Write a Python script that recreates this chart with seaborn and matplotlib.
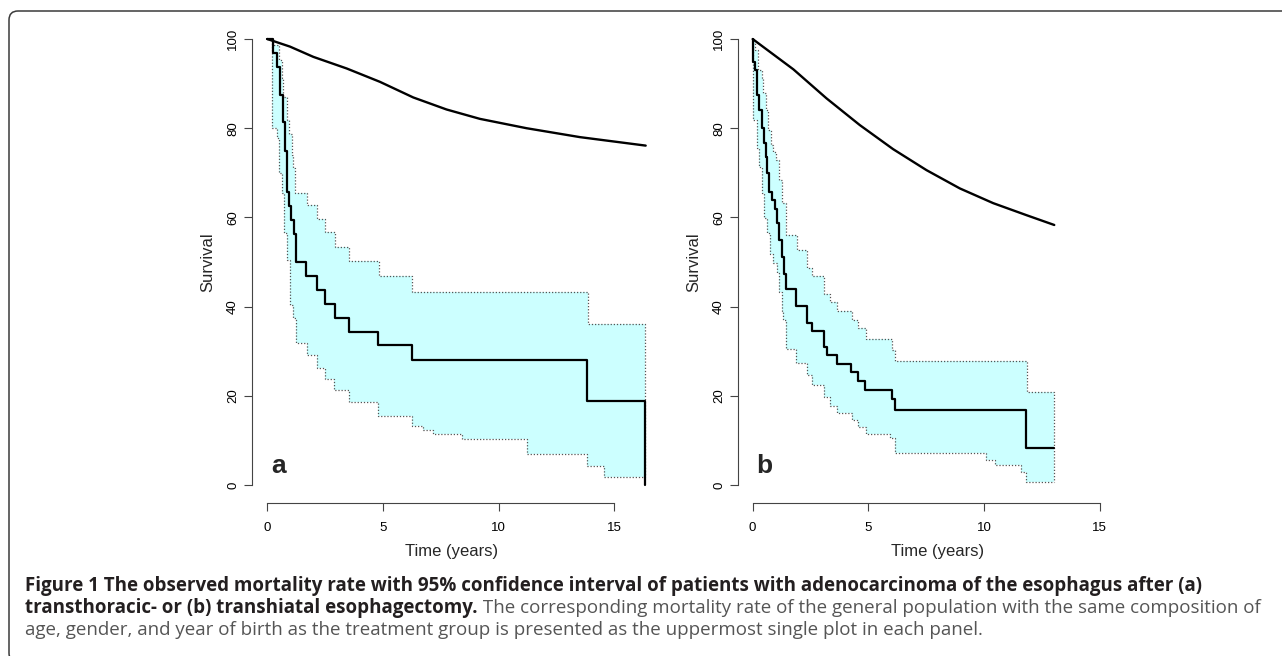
import numpy as np
import pandas as pd
import seaborn as sns
import matplotlib.pyplot as plt
from matplotlib.patches import FancyBboxPatch
from matplotlib.transforms import IdentityTransform

# ---- panel a: transthoracic ----
a_km_t = [0, 0.24, 0.42, 0.54, 0.67, 0.76, 0.85, 0.92, 1.02, 1.14, 1.22, 1.68, 2.13, 2.48,
          2.91, 3.55, 4.80, 6.27, 13.83, 16.35]
a_km_s = [100, 96.9, 93.8, 87.5, 81.3, 75.0, 65.6, 62.5, 59.4, 56.3, 50.0, 46.9, 43.8, 40.6,
          37.5, 34.4, 31.3, 28.1, 18.8, 0]
a_up_t = [0, 0.24, 0.51, 0.62, 0.69, 0.84, 0.95, 1.05, 1.13, 1.20, 1.70, 2.13, 2.49, 2.93,
          3.55, 4.83, 6.27, 13.88, 16.35]
a_up_s = [100, 98.6, 95.4, 91.2, 86.9, 81.8, 78.8, 74.0, 71.0, 65.4, 62.8, 59.6, 56.7, 53.4,
          50.3, 46.9, 43.3, 36.1, 1.7]
a_lo_t = [0, 0.22, 0.40, 0.52, 0.62, 0.72, 0.87, 0.98, 1.13, 1.23, 1.70, 2.13, 2.49, 2.90,
          3.55, 4.80, 6.27, 6.74, 7.18, 8.40, 11.21, 13.83, 14.56, 16.35]
a_lo_s = [100, 80.0, 77.7, 69.9, 65.4, 56.4, 50.4, 40.4, 37.4, 31.9, 29.1, 26.3, 23.7, 21.2,
          18.5, 15.5, 13.3, 12.3, 11.4, 10.3, 6.9, 4.3, 1.7, 1.7]
a_pop_t = [0, 0.98, 1.99, 3.43, 4.87, 6.31, 7.75, 9.19, 11.21, 13.52, 16.36]
a_pop_s = [100, 98.3, 96.0, 93.4, 90.4, 86.9, 84.2, 82.1, 80.0, 78.0, 76.1]

# ---- panel b: transhiatal ----
b_km_t = [0, 0.02, 0.10, 0.17, 0.27, 0.39, 0.49, 0.58, 0.63, 0.70, 0.82, 0.96, 1.06, 1.15,
          1.25, 1.35, 1.42, 1.87, 2.33, 2.55, 3.09, 3.20, 3.63, 4.25, 4.56, 4.85, 6.00, 6.15,
          11.80, 13.03]
b_km_s = [100, 94.9, 93.0, 87.4, 84.1, 80.0, 76.6, 73.6, 69.9, 65.8, 63.9, 61.8, 58.7, 54.9,
          51.2, 47.3, 43.9, 40.1, 36.4, 34.6, 31.0, 29.1, 27.1, 25.4, 23.4, 21.4, 19.2, 16.7,
          8.2, 8.2]
b_up_t = [0, 0.10, 0.24, 0.39, 0.46, 0.58, 0.68, 0.79, 0.89, 1.03, 1.13, 1.25, 1.42, 1.90,
          2.33, 2.55, 3.09, 3.34, 3.63, 4.28, 4.56, 4.90, 6.03, 6.15, 11.84, 13.03]
b_up_s = [100, 97.5, 93.0, 91.2, 87.8, 84.1, 79.6, 76.2, 74.7, 72.9, 68.4, 63.2, 56.1, 52.7,
          48.6, 46.9, 42.8, 41.1, 39.0, 37.0, 35.1, 32.7, 30.3, 27.7, 20.8, 0.7]
b_lo_t = [0, 0.03, 0.17, 0.27, 0.39, 0.50, 0.60, 0.75, 0.89, 1.04, 1.15, 1.25, 1.32, 1.42,
          1.87, 2.33, 2.55, 3.09, 3.34, 3.63, 4.28, 4.56, 4.90, 5.93, 6.15, 10.08, 10.47,
          11.59, 11.80, 13.03]
b_lo_s = [100, 81.8, 75.5, 71.4, 65.4, 59.8, 56.4, 51.9, 49.7, 47.5, 43.3, 38.9, 37.0, 30.6,
          27.3, 24.7, 22.4, 19.8, 17.7, 16.1, 14.6, 13.1, 11.4, 10.5, 7.2, 5.6, 4.5, 2.8,
          0.7, 0.7]
b_pop_t = [0, 1.76, 3.19, 4.63, 6.07, 7.51, 8.95, 10.39, 11.83, 13.03]
b_pop_s = [100, 93.2, 86.7, 80.7, 75.3, 70.6, 66.5, 63.2, 60.5, 58.3]

x_ticks = [0, 5, 10, 15]
y_ticks = [0, 20, 40, 60, 80, 100]

caption_1 = ("Figure 1 The observed mortality rate with 95% confidence interval of patients "
             "with adenocarcinoma of the esophagus after (a)")
caption_2b = "transthoracic- or (b) transhiatal esophagectomy."
caption_2r = (" The corresponding mortality rate of the general population with the same "
              "composition of")
caption_3 = ("age, gender, and year of birth as the treatment group is presented as the "
             "uppermost single plot in each panel.")

sns.set_theme(style="white")
plt.rcParams['font.family'] = ['Liberation Sans', 'DejaVu Sans']

W, H = 1282, 656
fig = plt.figure(figsize=(W / 100, H / 100), dpi=100)

AX_COL = '#444444'
FILL = '#ccffff'


def step_at(t, s, grid):
    idx = np.searchsorted(t, grid, side='right') - 1
    return np.asarray(s)[idx]


def panel(rect, xlim, km_t, km_s, up_t, up_s, lo_t, lo_s, pop_t, pop_s, tag):
    ax = fig.add_axes(rect)
    # shaded band between the two confidence limits
    grid = np.union1d(up_t, lo_t)
    grid = grid[grid < up_t[-1]]
    grid = np.append(grid, up_t[-1])
    ax.fill_between(grid, step_at(lo_t, lo_s, grid), step_at(up_t, up_s[:-1] + [up_s[-2]], grid),
                    step='post', color=FILL, lw=0)
    ci = pd.DataFrame({'t': up_t, 's': up_s})
    sns.lineplot(data=ci, x='t', y='s', ax=ax, estimator=None, sort=False,
                 drawstyle='steps-post', color='#555555', lw=0.9, linestyle=(0, (1, 1.5)))
    ci = pd.DataFrame({'t': lo_t, 's': lo_s})
    sns.lineplot(data=ci, x='t', y='s', ax=ax, estimator=None, sort=False,
                 drawstyle='steps-post', color='#555555', lw=0.9, linestyle=(0, (1, 1.5)))
    km = pd.DataFrame({'t': km_t, 's': km_s})
    sns.lineplot(data=km, x='t', y='s', ax=ax, estimator=None, sort=False,
                 drawstyle='steps-post', color='black', lw=1.6)
    pop = pd.DataFrame({'t': pop_t, 's': pop_s})
    sns.lineplot(data=pop, x='t', y='s', ax=ax, estimator=None, sort=False,
                 color='black', lw=1.7)

    ax.set_xlim(*xlim)
    ax.set_ylim(-4, 104)
    ax.set_xticks(x_ticks)
    ax.set_yticks(y_ticks)
    for side in ['top', 'right']:
        ax.spines[side].set_visible(False)
    ax.spines['left'].set_bounds(0, 100)
    ax.spines['bottom'].set_bounds(0, 15)
    for side in ['left', 'bottom']:
        ax.spines[side].set_color(AX_COL)
        ax.spines[side].set_linewidth(0.8)
    ax.tick_params(direction='out', length=5.5, width=0.8, color=AX_COL,
                   labelsize=9.5, labelcolor='black', left=True, bottom=True)
    ax.tick_params(axis='x', pad=8)
    ax.tick_params(axis='y', pad=4, labelrotation=90)
    for lab in ax.get_yticklabels():
        lab.set_va('center')
    ax.set_xlabel('Time (years)', fontsize=12, va='center')
    ax.set_ylabel('Survival', fontsize=12, va='center')
    ax.xaxis.set_label_coords(0.5, -0.102)
    ax.yaxis.set_label_coords(-0.111, 0.5)
    ax.text(0.15, 2.7, tag, fontsize=19, fontweight='bold', ha='left', va='baseline')
    return ax


ax_a = panel([0.1968, 0.23354, 0.3110, 0.73415], (-0.65, 16.59),
             a_km_t, a_km_s, a_up_t, a_up_s, a_lo_t, a_lo_s, a_pop_t, a_pop_s, 'a')
ax_b = panel([0.5759, 0.23354, 0.3102, 0.73415], (-0.62, 16.56),
             b_km_t, b_km_s, b_up_t, b_up_s, b_lo_t, b_lo_s, b_pop_t, b_pop_s, 'b')

# caption under the panels
cap_font = ['Open Sans', 'DejaVu Sans']
x0 = 25 / W
t1 = fig.text(x0, 1 - 591 / H, caption_1, family=cap_font, fontweight='bold',
              fontsize=12, color='#231f20', va='baseline')
fig.canvas.draw()
r = fig.canvas.get_renderer()
fs = 12 * 1178 / t1.get_window_extent(r).width
t1.set_fontsize(fs)
t2 = fig.text(x0, 1 - 613 / H, caption_2b, family=cap_font, fontweight='bold',
              fontsize=fs, color='#231f20', va='baseline')
fig.canvas.draw()
x2 = t2.get_window_extent(r).x1 / W
fig.text(x2, 1 - 613 / H, caption_2r, family=cap_font, fontsize=fs, color='#555555',
         va='baseline')
fig.text(x0, 1 - 635 / H, caption_3, family=cap_font, fontsize=fs, color='#555555',
         va='baseline')

frame = FancyBboxPatch((9, -6), 1290, H - 11 + 6, boxstyle='round,pad=0,rounding_size=9',
                       transform=IdentityTransform(), fill=False, ec='#3a3a3a', lw=1.1)
fig.patches.append(frame)

fig.savefig('out.png', dpi=100)
